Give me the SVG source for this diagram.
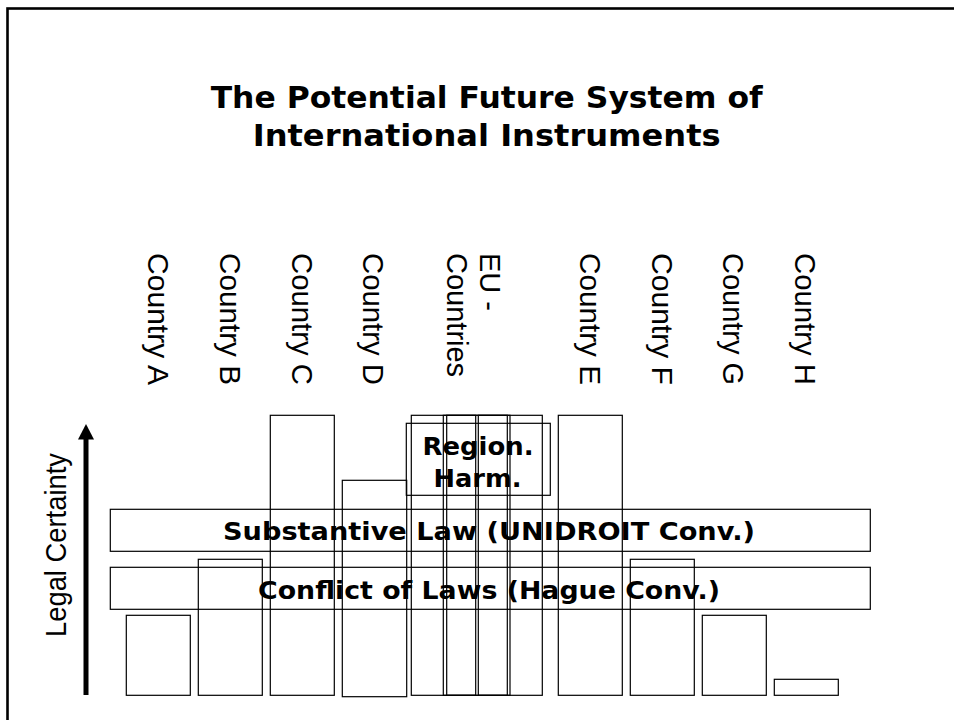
<svg xmlns="http://www.w3.org/2000/svg" width="954" height="720" viewBox="0 0 954 720">
  <defs>
    <style>
      .box { fill: none; stroke: #000; stroke-width: 1.2; }
      .lbl { font-family: "Liberation Sans", Arial, sans-serif; font-size: 29px; fill: #000; }
      .bold { font-family: "DejaVu Sans", Verdana, sans-serif; font-weight: bold; fill: #000; }
    </style>
  </defs>
  <rect x="0" y="0" width="954" height="720" fill="#fff"/>
  <rect id="frame" x="7.5" y="8.5" width="980" height="740" fill="none" stroke="#000" stroke-width="2.6"/>

  <g id="title">
    <text class="bold" x="486.7" y="108.3" font-size="31" text-anchor="middle" textLength="552" lengthAdjust="spacingAndGlyphs">The Potential Future System of</text>
    <text class="bold" x="486.7" y="146" font-size="31" text-anchor="middle" textLength="468" lengthAdjust="spacingAndGlyphs">International Instruments</text>
  </g>

  <g id="label-a"><text class="lbl" transform="translate(148,253) rotate(90)" textLength="132" lengthAdjust="spacingAndGlyphs">Country A</text></g>
  <g id="label-b"><text class="lbl" transform="translate(220,253) rotate(90)" textLength="132" lengthAdjust="spacingAndGlyphs">Country B</text></g>
  <g id="label-c"><text class="lbl" transform="translate(292,253) rotate(90)" textLength="132" lengthAdjust="spacingAndGlyphs">Country C</text></g>
  <g id="label-d"><text class="lbl" transform="translate(363,253) rotate(90)" textLength="132" lengthAdjust="spacingAndGlyphs">Country D</text></g>
  <g id="label-eu">
    <text class="lbl" transform="translate(480,253) rotate(90)">EU -</text>
    <text class="lbl" transform="translate(447,253) rotate(90)">Countries</text>
  </g>
  <g id="label-e"><text class="lbl" transform="translate(580,253) rotate(90)" textLength="132" lengthAdjust="spacingAndGlyphs">Country E</text></g>
  <g id="label-f"><text class="lbl" transform="translate(652,253) rotate(90)" textLength="132" lengthAdjust="spacingAndGlyphs">Country F</text></g>
  <g id="label-g"><text class="lbl" transform="translate(723,253) rotate(90)" textLength="132" lengthAdjust="spacingAndGlyphs">Country G</text></g>
  <g id="label-h"><text class="lbl" transform="translate(795,253) rotate(90)" textLength="132" lengthAdjust="spacingAndGlyphs">Country H</text></g>

  <g id="legal-certainty">
    <text class="lbl" font-size="21" text-anchor="middle" transform="translate(66,545) rotate(-90)" textLength="184" lengthAdjust="spacingAndGlyphs">Legal Certainty</text>
  </g>

  <g id="bar-a"><rect class="box" x="126.3" y="615.3" width="64" height="80"/></g>
  <g id="bar-b"><rect class="box" x="198.3" y="559.3" width="64" height="136"/></g>
  <g id="bar-c"><rect class="box" x="270.3" y="415.3" width="64" height="280"/></g>
  <g id="bar-d"><rect class="box" x="342.3" y="480.3" width="64.4" height="216.4"/></g>
  <g id="bar-eu">
    <rect class="box" x="411.3" y="415.3" width="64.4" height="280"/>
    <rect class="box" x="443.3" y="415.3" width="64" height="280"/>
    <rect class="box" x="446.7" y="415.3" width="63.3" height="280"/>
    <rect class="box" x="478.3" y="415.3" width="64" height="280"/>
  </g>
  <g id="bar-e"><rect class="box" x="558.3" y="415.3" width="64" height="280"/></g>
  <g id="bar-f"><rect class="box" x="630.3" y="559.3" width="64" height="136"/></g>
  <g id="bar-g"><rect class="box" x="702.3" y="615.3" width="64" height="80"/></g>
  <g id="bar-h"><rect class="box" x="774.3" y="679.3" width="64" height="16"/></g>

  <g id="regional-harmonisation">
    <rect class="box" x="406.3" y="423.3" width="144" height="72"/>
    <text class="bold" x="478" y="455" font-size="25" text-anchor="middle" textLength="111" lengthAdjust="spacingAndGlyphs">Region.</text>
    <text class="bold" x="477.5" y="487.3" font-size="25" text-anchor="middle" textLength="88" lengthAdjust="spacingAndGlyphs">Harm.</text>
  </g>

  <g id="substantive-law">
    <rect class="box" x="110.3" y="509.3" width="760" height="42"/>
    <text class="bold" x="489" y="540" font-size="25" text-anchor="middle" textLength="532" lengthAdjust="spacingAndGlyphs">Substantive Law (UNIDROIT Conv.)</text>
  </g>

  <g id="conflict-of-laws">
    <rect class="box" x="110.3" y="567.3" width="760" height="42"/>
    <text class="bold" x="489" y="598.7" font-size="25" text-anchor="middle" textLength="462" lengthAdjust="spacingAndGlyphs">Conflict of Laws (Hague Conv.)</text>
  </g>

  <g id="connectors">
    <line x1="86" y1="695" x2="86" y2="437" stroke="#000" stroke-width="5"/>
    <polygon points="78,439.5 94,439.5 86,424" fill="#000"/>
  </g>
</svg>
